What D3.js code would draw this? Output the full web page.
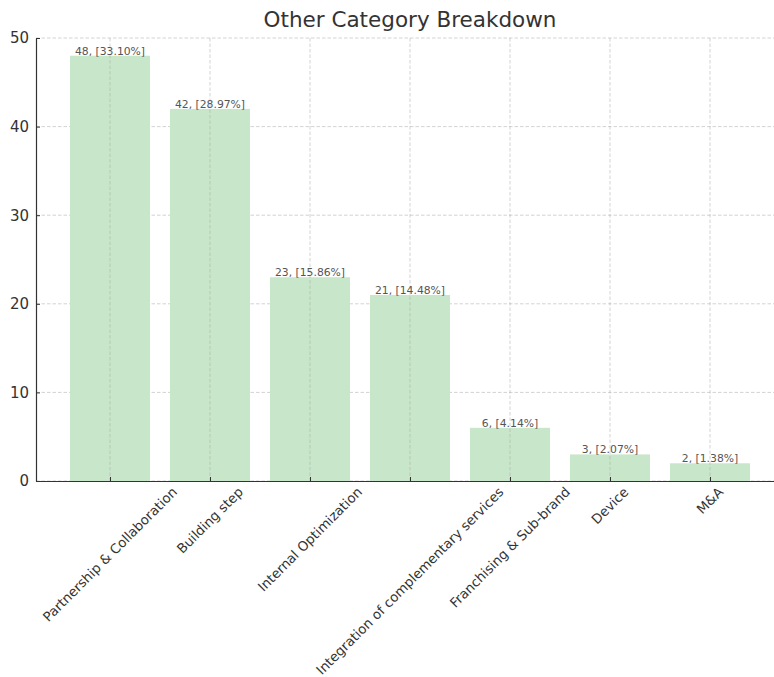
<!DOCTYPE html>
<html>
<head>
<meta charset="utf-8">
<script src="https://cdn.jsdelivr.net/npm/d3@7"></script>
<style>
  html, body { margin: 0; padding: 0; background: #fff; }
  svg { display: block; font-family: "DejaVu Sans", sans-serif; }
</style>
</head>
<body>
<svg id="chart" width="774" height="677"></svg>
<script>
// Category counts for the "Other" bucket
const categories = [
  "Partnership & Collaboration",
  "Building step",
  "Internal Optimization",
  "Integration of complementary services",
  "Franchising & Sub-brand",
  "Device",
  "M&A"
];
const counts = [48, 42, 23, 21, 6, 3, 2];
const yTicks = [0, 10, 20, 30, 40, 50];
const title = "Other Category Breakdown";

const total = d3.sum(counts);
const svg = d3.select("#chart");

const plot = { left: 36, right: 784, top: 38, bottom: 481 };

// Linear x over category index, with matplotlib-like margins
const x = d3.scaleLinear().domain([-0.74, 6.74]).range([plot.left, plot.right]);
const barWidth = 0.8;
const y = d3.scaleLinear().domain([0, 50]).range([plot.bottom, plot.top]);

// Horizontal grid
svg.append("g").selectAll("line").data(yTicks).join("line")
  .attr("x1", plot.left).attr("x2", plot.right)
  .attr("y1", d => y(d)).attr("y2", d => y(d))
  .attr("stroke", "#b0b0b0").attr("stroke-opacity", 0.7)
  .attr("stroke-dasharray", "3.5,2").attr("stroke-width", 0.8);

// Bars
svg.append("g").selectAll("rect").data(counts).join("rect")
  .attr("x", (d, i) => x(i - barWidth / 2))
  .attr("width", x(barWidth) - x(0))
  .attr("y", d => y(d))
  .attr("height", d => y(0) - y(d))
  .attr("fill", "#c8e6c9");

// Vertical grid lines drawn over the bars
svg.append("g").selectAll("line").data(categories).join("line")
  .attr("x1", (d, i) => x(i)).attr("x2", (d, i) => x(i))
  .attr("y1", plot.top).attr("y2", plot.bottom)
  .attr("stroke", "#a0a0a0").attr("stroke-opacity", 0.6)
  .attr("stroke-dasharray", "3.5,2").attr("stroke-width", 0.8);

// Value labels
svg.append("g").selectAll("text").data(counts).join("text")
  .attr("x", (d, i) => x(i))
  .attr("y", d => y(d) - 1)
  .attr("text-anchor", "middle")
  .attr("font-size", 10.8)
  .attr("fill", "#555")
  .text(d => `${d}, [${(d / total * 100).toFixed(2)}%]`);

// Y axis
const yAxis = d3.axisLeft(y).tickValues(yTicks).tickSizeInner(-4).tickSizeOuter(0).tickPadding(7);
const gy = svg.append("g").attr("transform", `translate(${plot.left},0)`).call(yAxis);
gy.select(".domain").attr("stroke", "#333").attr("stroke-width", 1.2);
gy.selectAll(".tick line").attr("stroke", "#333");
gy.selectAll(".tick text").attr("font-size", 15).attr("fill", "#333")
  .attr("font-family", "DejaVu Sans, sans-serif");

// X axis
const xAxis = d3.axisBottom(x).tickValues(d3.range(categories.length))
  .tickSizeInner(-4).tickSizeOuter(0).tickFormat(() => "");
const gx = svg.append("g").attr("transform", `translate(0,${plot.bottom})`).call(xAxis);
gx.select(".domain").attr("stroke", "#333").attr("stroke-width", 1.2);
gx.selectAll(".tick line").attr("stroke", "#333");

// Rotated category labels, centred on each tick
const labelSize = 13.3;
const labels = svg.append("g").selectAll("text").data(categories).join("text")
  .attr("text-anchor", "middle")
  .attr("font-size", labelSize)
  .attr("fill", "#333")
  .attr("dominant-baseline", "central")
  .text(d => d);
labels.each(function(d, i) {
  const L = this.getComputedTextLength();
  const cy = plot.bottom + 4 + (L / 2) * Math.SQRT1_2 + (labelSize / 2) * Math.SQRT1_2;
  d3.select(this).attr("transform", `translate(${x(i)},${cy}) rotate(-45)`);
});

// Title
svg.append("text")
  .attr("x", 410).attr("y", 27)
  .attr("text-anchor", "middle")
  .attr("font-size", 21.5)
  .attr("fill", "#333")
  .text(title);
</script>
</body>
</html>
